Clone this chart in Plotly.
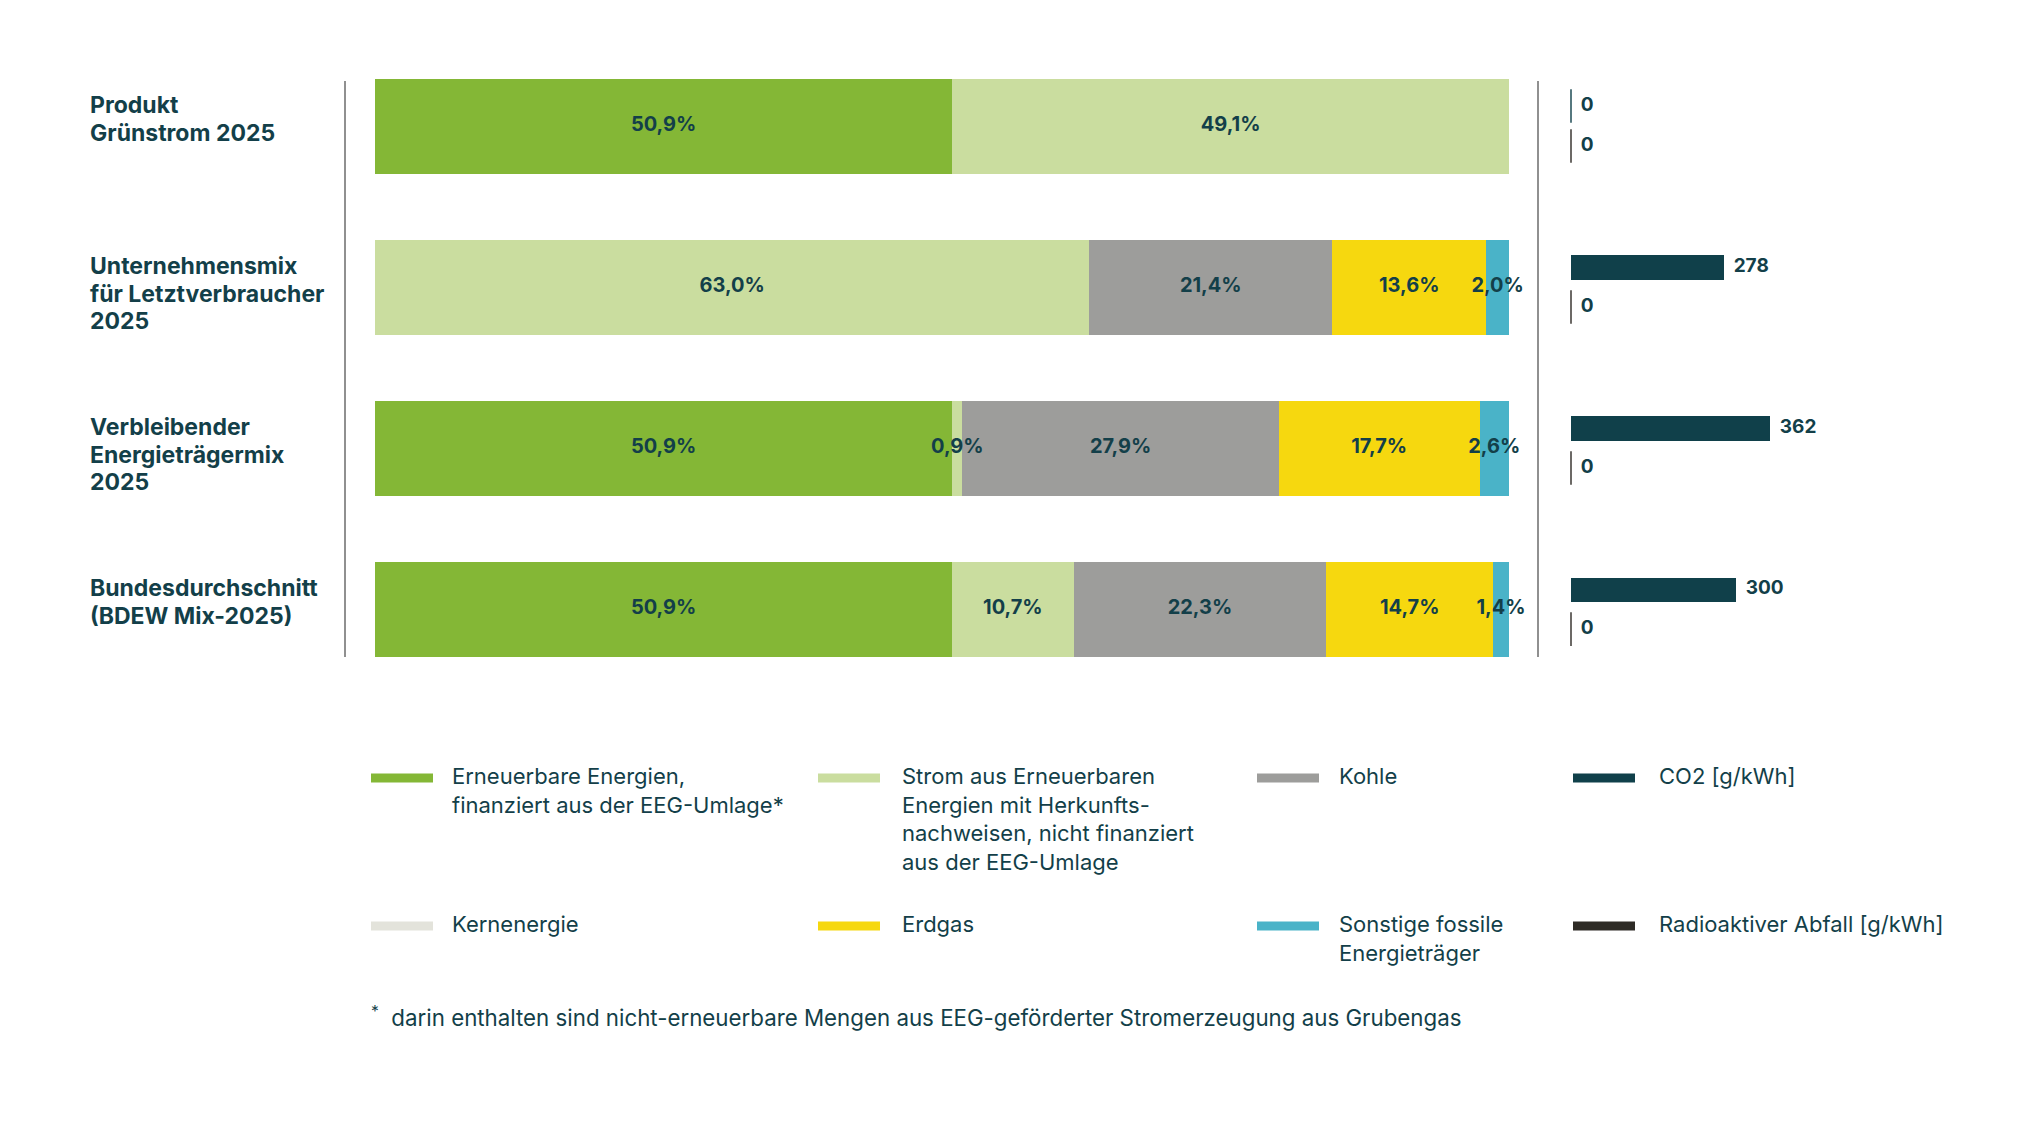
import plotly.graph_objects as go

# --- data (Stromkennzeichnung 2025) ---
kategorien = [
    "Produkt<br>Grünstrom 2025",
    "Unternehmensmix<br>für Letztverbraucher<br>2025",
    "Verbleibender<br>Energieträgermix<br>2025",
    "Bundesdurchschnitt<br>(BDEW Mix-2025)",
]

eeg = [50.9, 0.0, 50.9, 50.9]
herkunftsnachweis = [49.1, 63.0, 0.9, 10.7]
kernenergie = [0.0, 0.0, 0.0, 0.0]
kohle = [0.0, 21.4, 27.9, 22.3]
erdgas = [0.0, 13.6, 17.7, 14.7]
sonstige = [0.0, 2.0, 2.6, 1.4]

co2 = [0, 278, 362, 300]
radioaktiv = [0, 0, 0, 0]

legend_namen = [
    "Erneuerbare Energien,<br>finanziert aus der EEG-Umlage*",
    "Strom aus Erneuerbaren<br>Energien mit Herkunfts-<br>nachweisen, nicht finanziert<br>aus der EEG-Umlage",
    "Kohle",
    "CO2 [g/kWh]",
    "Kernenergie",
    "Erdgas",
    "Sonstige fossile<br>Energieträger",
    "Radioaktiver Abfall [g/kWh]",
]
fussnote = "<sup>*</sup>  darin enthalten sind nicht-erneuerbare Mengen aus EEG-geförderter Stromerzeugung aus Grubengas"

# colours
C_EEG = "#84b736"
C_HKN = "#cadd9f"
C_KOHLE = "#9d9d9b"
C_KERN = "#e3e3db"
C_ERDGAS = "#f6d80f"
C_SONST = "#4ab3c8"
C_CO2 = "#10404a"
C_RAD = "#2e2b26"
TXT = "#133f49"
FONT = "Inter"

# page is 2040x1132, the browser adds an 8px body margin
FW, FH = 2024, 1116


def px(x):
    return (x - 8) / FW


def py(y):
    return 1 - (y - 8) / FH


def fmt_pct(v):
    return (f"{v:.1f}".replace(".", ",") + "%") if v > 0 else ""


def build_figure():
    fig = go.Figure()

    segmente = [
        (eeg, C_EEG), (herkunftsnachweis, C_HKN), (kernenergie, C_KERN),
        (kohle, C_KOHLE), (erdgas, C_ERDGAS), (sonstige, C_SONST),
    ]
    label_x, label_y, label_txt = [], [], []
    basis = [0.0] * len(kategorien)
    for werte, farbe in segmente:
        fig.add_trace(go.Bar(
            x=werte, y=kategorien, orientation="h",
            marker=dict(color=farbe, line=dict(width=0)),
            width=0.585, showlegend=False, hoverinfo="skip",
            xaxis="x", yaxis="y",
        ))
        # segment labels go on a separate text layer so later segments don't cover them
        for i, v in enumerate(werte):
            if v > 0:
                label_x.append(basis[i] + v / 2)
                label_y.append(kategorien[i])
                label_txt.append(fmt_pct(v))
            basis[i] += v

    fig.add_trace(go.Scatter(
        x=label_x, y=label_y, mode="text", text=label_txt, textposition="middle center",
        textfont=dict(family=FONT, size=20, color=TXT, weight=700),
        cliponaxis=False, showlegend=False, hoverinfo="skip", xaxis="x", yaxis="y",
    ))

    # right panel: CO2 (upper row) and radioactive waste (lower row)
    for werte, farbe, yax in [(co2, C_CO2, "y2"), (radioaktiv, C_RAD, "y3")]:
        fig.add_trace(go.Bar(
            x=werte, y=kategorien, orientation="h",
            marker=dict(color=farbe, line=dict(width=0)), width=0.15,
            showlegend=False, hoverinfo="skip", xaxis="x2", yaxis=yax,
        ))
        # thin tick for zero values
        fig.add_trace(go.Scatter(
            x=werte, y=kategorien, mode="markers",
            marker=dict(symbol="line-ns", size=[24 if v == 0 else 0 for v in werte],
                        color=farbe, line=dict(width=2, color=farbe)),
            cliponaxis=False, showlegend=False, hoverinfo="skip",
            xaxis="x2", yaxis=yax,
        ))
        # value labels (invisible marker gives the gap to the bar end)
        fig.add_trace(go.Scatter(
            x=werte, y=kategorien, mode="markers+text",
            marker=dict(size=14, color="rgba(0,0,0,0)"),
            text=[str(v) for v in werte], textposition="middle right",
            textfont=dict(family=FONT, size=19, color=TXT, weight=700),
            cliponaxis=False, showlegend=False, hoverinfo="skip",
            xaxis="x2", yaxis=yax,
        ))

    # category labels, left aligned and hung from the top of the bar
    for k in kategorien:
        zeilen = k.split("<br>")
        for j, zeile in enumerate(zeilen):
            fig.add_annotation(
                x=px(88), xref="paper", xanchor="left", y=k, yref="y", yanchor="middle",
                yshift=21 - j * 27.5, text=zeile, align="left", showarrow=False,
                font=dict(family=FONT, size=23, color=TXT, weight=700),
            )

    # separator lines
    for xpos in (345, 1538):
        fig.add_shape(type="line", xref="paper", yref="paper",
                      x0=px(xpos), x1=px(xpos), y0=py(81), y1=py(657),
                      line=dict(color="#6b6b6b", width=1.5))

    # custom legend, 4 columns x 2 rows
    legend_farben = [C_EEG, C_HKN, C_KOHLE, C_CO2, C_KERN, C_ERDGAS, C_SONST, C_RAD]
    swatch_x = [371, 818, 1257, 1573]
    text_x = [450, 900, 1337, 1657]
    zeilen_y = [778, 926]
    for i, (name, farbe) in enumerate(zip(legend_namen, legend_farben)):
        col, row = i % 4, i // 4
        yc = zeilen_y[row]
        fig.add_shape(type="rect", xref="paper", yref="paper",
                      x0=px(swatch_x[col]), x1=px(swatch_x[col] + 62),
                      y0=py(yc + 4.5), y1=py(yc - 4.5),
                      fillcolor=farbe, line=dict(width=0))
        fig.add_annotation(
            x=px(text_x[col]), xref="paper", xanchor="left",
            y=py(yc - 17), yref="paper", yanchor="top",
            text=name, align="left", showarrow=False,
            font=dict(family=FONT, size=22, color=TXT),
        )

    fig.add_annotation(
        x=px(369), xref="paper", xanchor="left", y=py(1016), yref="paper", yanchor="middle",
        text=fussnote, align="left", showarrow=False,
        font=dict(family=FONT, size=22.3, color=TXT),
    )

    y_dom = [py(689.6), py(45.5)]
    shift = 20 / FH
    achse_y = dict(type="category", categoryorder="array", categoryarray=kategorien,
                   autorange="reversed", showticklabels=False, showgrid=False,
                   zeroline=False, showline=False, ticks="")
    fig.update_layout(
        width=FW, height=FH,
        margin=dict(l=0, r=0, t=0, b=0),
        paper_bgcolor="white", plot_bgcolor="rgba(0,0,0,0)",
        barmode="stack", bargap=0,
        xaxis=dict(domain=[px(375), px(1509)], range=[0, 100], visible=False, fixedrange=True),
        yaxis=dict(domain=y_dom, **achse_y),
        xaxis2=dict(domain=[px(1571), px(1571 + 220)], range=[0, 400], visible=False,
                    anchor="y2", fixedrange=True),
        yaxis2=dict(domain=[y_dom[0] + shift, y_dom[1] + shift], anchor="x2", **achse_y),
        yaxis3=dict(domain=[y_dom[0] - shift, y_dom[1] - shift], anchor="x2", **achse_y),
        font=dict(family=FONT, color=TXT),
    )
    return fig


if __name__ == "__main__":
    print("Building Stromkennzeichnung chart")
    fig = build_figure()
    fig.write_html("out.html")
